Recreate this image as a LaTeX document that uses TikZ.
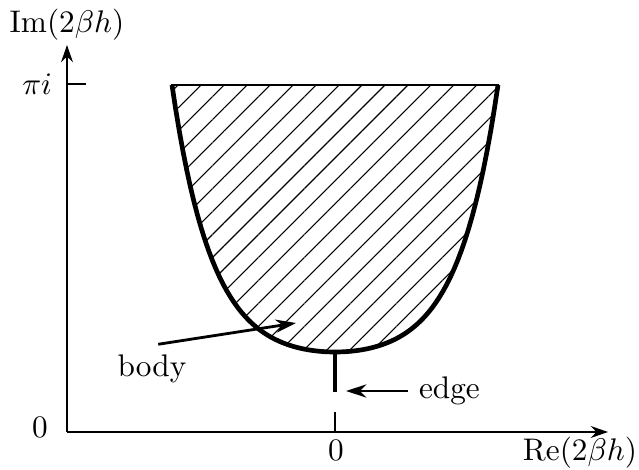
\documentclass[tikz,border=0pt]{standalone}
\usepackage{tikz}
\usetikzlibrary{arrows.meta, patterns.meta}

\begin{document}
\begin{tikzpicture}[x=0.32pt,y=0.32pt,
  axis/.style={line width=0.6pt, -{Stealth[length=5.5pt,width=3.8pt]}},
  boundary/.style={line width=1.5pt},
  tickline/.style={line width=0.5pt},
  pointer/.style={line width=0.9pt, -{Stealth[length=6.5pt,width=4.2pt]}}]
  \path[use as bounding box] (0,0) rectangle (639,470);
  % axes
  \coordinate (origin) at (67,38);
  \coordinate (xend) at (608,38);
  \coordinate (yend) at (67,425);
  \draw[axis] (origin) -- (xend);
  \draw[axis] (origin) -- (yend);
  \coordinate (pitick) at (67,386);
  \draw[tickline] (pitick) -- ++(19,0);
  \coordinate (zerotick) at (335,38);
  \draw[tickline] (zerotick) -- ++(0,20);
  % hatched region and its boundary
  \draw[tickline, pattern={Lines[angle=45,distance=5.2pt,line width=0.35pt]}]
    plot[domain=-163:163, samples=90] ({335+\x},{118+9.4*(cosh(0.025*\x)-1)}) -- cycle;
  \draw[boundary] plot[domain=-163:163, samples=90] ({335+\x},{118+9.4*(cosh(0.025*\x)-1)});
  \coordinate (bottom) at (335,118);
  \coordinate (edgeend) at (335,78);
  \draw[boundary] (bottom) -- (edgeend);
  % labels
  \node (imlabel) [anchor=base] at (67,437) {$\mathrm{Im}(2\beta h)$};
  \node (relabel) [anchor=base] at (580,9) {$\mathrm{Re}(2\beta h)$};
  \node (pilabel) [anchor=east] at (63,386) {$\pi i$};
  \node (yzero) at (40,43) {$0$};
  \node (xzero) [anchor=base] at (336,9) {$0$};
  \node (body) [anchor=base] at (152,93) {body};
  \node (edge) [anchor=west] at (408,79) {edge};
  \coordinate (bodytip) at (296,147);
  \coordinate (edgetip) at (346,79);
  \draw[pointer] ([xshift=2pt]body.north) -- (bodytip);
  \draw[pointer] (edge.west) -- (edgetip);
\end{tikzpicture}
\end{document}
